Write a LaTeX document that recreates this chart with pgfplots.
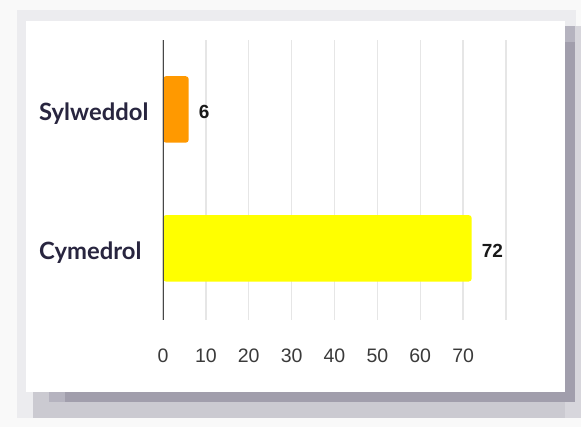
\documentclass[border=0pt]{standalone}
\usepackage{pgfplots}
\pgfplotsset{compat=1.18}
\usepackage{fontspec}
\setmainfont{Liberation Sans}
\newfontfamily\lato{Lato}
\definecolor{bgout}{HTML}{F9F9F9}
\definecolor{band}{HTML}{ECECEF}
\definecolor{shlight}{HTML}{CBCAD1}
\definecolor{shmid}{HTML}{B5B3BF}
\definecolor{shdark}{HTML}{A19EAC}
\definecolor{shright}{HTML}{D7D6DC}
\definecolor{barorange}{HTML}{FF9900}
\definecolor{baryellow}{HTML}{FFFF00}
\definecolor{catcol}{HTML}{28253F}
\definecolor{tickcol}{HTML}{3A3A3A}
\definecolor{gridcol}{HTML}{E6E6E6}
\begin{document}
\begin{tikzpicture}[x=1pt,y=1pt]
\fill[bgout] (0,0) rectangle (581,427);
\fill[band] (17,9) rectangle (576,417);
\fill[shlight] (33,9) rectangle (576,35);
\fill[shright] (565,9) rectangle (581,401);
\fill[shmid] (49,25) rectangle (575,35);
\fill[shdark] (65,25) rectangle (575,35);
\fill[shmid] (565,25) rectangle (575,401);
\fill[shdark] (565,25) rectangle (575,385);
\fill[white] (26,35) rectangle (565,406);
\begin{axis}[
  at={(163pt,107pt)}, anchor=south west,
  scale only axis, width=343pt, height=280pt,
  xmin=0, xmax=80, ymin=-0.516, ymax=1.5,
  xtick={0,10,...,80},
  xticklabels={0,10,20,30,40,50,60,70,{}},
  ytick={0,1},
  yticklabels={Cymedrol,Sylweddol},
  major tick length=0pt,
  xmajorgrids,
  grid style={gridcol, line width=1.4pt},
  axis line style={draw=none},
  /pgf/number format/assume math mode=true,
  xticklabel style={anchor=center, inner sep=0pt, yshift=-36pt,
    font=\fontsize{19.5}{21}\selectfont, text=tickcol},
  yticklabel style={anchor=base west, inner sep=0pt, xshift=-124pt, yshift=-11.5pt,
    font=\fontsize{23.8}{26}\selectfont\lato\bfseries, text=catcol},
  point meta=x,
  nodes near coords,
  every node near coord/.append style={anchor=west, inner sep=0pt, xshift=10pt, yshift=-3pt,
    font=\fontsize{19}{21}\selectfont\bfseries, text=black!90},
]
\addplot[xbar, bar shift=0pt, bar width=66.5pt, fill=barorange, draw=none, rounded corners=3pt] coordinates {(6,1)};
\addplot[xbar, bar shift=0pt, bar width=66.5pt, fill=baryellow, draw=none, rounded corners=3pt] coordinates {(72,0)};
\draw[black!72, line width=1.4pt] (axis cs:0,-0.516) -- (axis cs:0,1.5);
\end{axis}
\end{tikzpicture}
\end{document}
